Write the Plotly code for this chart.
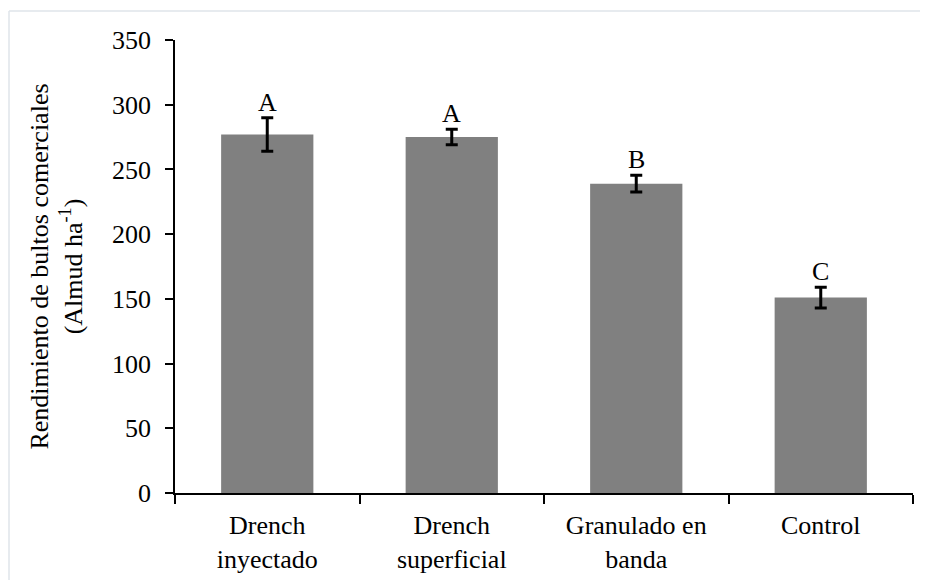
import plotly.graph_objects as go

categories = ["Drench<br>inyectado", "Drench<br>superficial", "Granulado en<br>banda", "Control"]
values = [277, 275, 239, 151]
errors = [13, 6, 6.5, 8]
letters = ["A", "A", "B", "C"]
y_ticks = [0, 50, 100, 150, 200, 250, 300, 350]

FONT = "Liberation Serif, Times New Roman, serif"
FS = 26

# page offset of the plot div (browser body margin)
OFF = 8
W, H = 928 - OFF, 580 - OFF
# target plot area in page pixels
PL, PR, PT, PB = 175, 913, 40, 493
L = PL - OFF
T = PT - OFF
R = W - (PR - OFF)
B = H - (PB - OFF)
pw, ph = PR - PL, PB - PT

def px(x):
    return (x - PL) / pw

def py(y):
    return (PB - y) / ph

fig = go.Figure()
fig.add_trace(go.Bar(
    x=categories, y=values,
    marker=dict(color="#808080", line=dict(width=0)),
    width=0.5,
    error_y=dict(type="data", array=errors, visible=True, color="black", thickness=3, width=6),
))

for c, v, e, l in zip(categories, values, errors, letters):
    fig.add_annotation(x=c, y=v + e, text=l, showarrow=False, yanchor="bottom",
                       yshift=-1, font=dict(family=FONT, size=FS, color="black"))

frame = "#dfe4ea"
fig.add_shape(type="line", xref="paper", yref="paper", x0=px(9), x1=px(940), y0=py(11), y1=py(11),
              line=dict(color=frame, width=1.5))
fig.add_shape(type="line", xref="paper", yref="paper", x0=px(9), x1=px(9), y0=py(11), y1=py(600),
              line=dict(color=frame, width=1.5))

fig.update_layout(
    width=W, height=H,
    margin=dict(l=L, r=R, t=T, b=B, autoexpand=False),
    plot_bgcolor="white", paper_bgcolor="white",
    font=dict(family=FONT, size=FS, color="black"),
    showlegend=False,
)
fig.update_xaxes(
    type="category", range=[-0.5, 3.5],
    showline=True, linecolor="black", linewidth=1.5,
    ticks="outside", tickson="boundaries", ticklen=9, tickcolor="black", tickwidth=1.5,
    showgrid=False, tickfont=dict(family=FONT, size=FS),
    ticklabelstandoff=8,
)
fig.update_yaxes(
    range=[0, 350], tickvals=y_ticks,
    showline=True, linecolor="black", linewidth=1.5,
    ticks="outside", ticklen=8, tickcolor="black", tickwidth=1.5,
    showgrid=False, zeroline=False, tickfont=dict(family=FONT, size=FS),
    ticklabelstandoff=9,
    title=dict(text="Rendimiento de bultos comerciales<br>(Almud ha<sup>-1</sup>)",
               font=dict(family=FONT, size=FS), standoff=22),
)

fig.write_html("out.html")
